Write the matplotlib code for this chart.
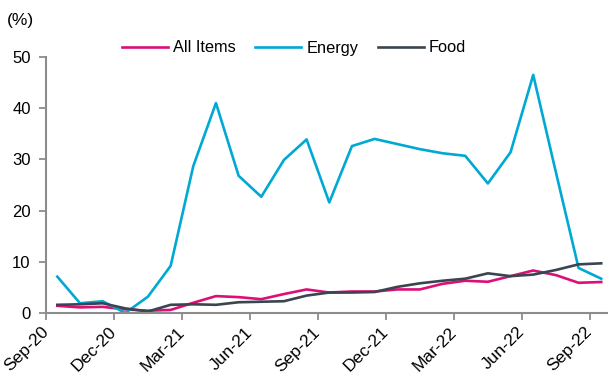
import matplotlib
matplotlib.use('Agg')
import matplotlib.pyplot as plt
import matplotlib.transforms as mtransforms
import numpy as np

plt.rcParams['font.family'] = ['Liberation Sans', 'DejaVu Sans']

# Monthly data, Sep-20 .. Sep-22 (year-on-year %)
months = ['Sep-20', 'Oct-20', 'Nov-20', 'Dec-20', 'Jan-21', 'Feb-21', 'Mar-21', 'Apr-21',
          'May-21', 'Jun-21', 'Jul-21', 'Aug-21', 'Sep-21', 'Oct-21', 'Nov-21', 'Dec-21',
          'Jan-22', 'Feb-22', 'Mar-22', 'Apr-22', 'May-22', 'Jun-22', 'Jul-22', 'Aug-22',
          'Sep-22']
all_items = [1.4, 1.1, 1.2, 0.7, 0.45, 0.6, 2.0, 3.3, 3.1, 2.7, 3.7, 4.6,
             4.0, 4.2, 4.2, 4.6, 4.6, 5.7, 6.3, 6.1, 7.2, 8.3, 7.4, 5.9, 6.05]
energy = [7.1, 1.9, 2.3, 0.0, 3.2, 9.2, 28.7, 41.0, 26.8, 22.7, 29.9, 33.9,
          21.6, 32.6, 34.0, 33.0, 32.0, 31.2, 30.7, 25.3, 31.4, 46.5, 27.5, 8.8, 6.7]
food = [1.6, 1.7, 1.9, 0.9, 0.3, 1.6, 1.7, 1.6, 2.1, 2.2, 2.3, 3.4,
        4.0, 4.0, 4.1, 5.1, 5.8, 6.3, 6.7, 7.75, 7.2, 7.5, 8.4, 9.5, 9.7]

tick_labels = months[::3]

fig = plt.figure(figsize=(6.08, 3.79), dpi=100)
ax = fig.add_axes([46 / 608, 66 / 379, 1 - 46 / 608, 256 / 379])

x = np.arange(len(months))
ax.plot(x, all_items, color='#DC0F78', lw=1.9, label='All Items')
ax.plot(x, energy, color='#00A9D4', lw=1.9, label='Energy')
ax.plot(x, food, color='#3B4550', lw=1.9, label='Food')

ax.set_xlim(-0.5, 24.3)
ax.set_ylim(0, 50)
ax.set_yticks(range(0, 51, 10))
ax.set_xticks(np.arange(-0.5, 24, 3))
ax.set_xticklabels(tick_labels, rotation=45, ha='right', va='center',
                   rotation_mode='anchor', fontsize=12.5)
offset = mtransforms.ScaledTranslation(0.14, 0.0, fig.dpi_scale_trans)
for lbl in ax.get_xticklabels():
    lbl.set_transform(lbl.get_transform() + offset)

for s in ['top', 'right']:
    ax.spines[s].set_visible(False)
for s in ['left', 'bottom']:
    ax.spines[s].set_color('#8C8C8C')
    ax.spines[s].set_linewidth(1.5)
ax.tick_params(axis='both', colors='#8C8C8C', width=1.3, length=5,
               labelcolor='black')
ax.tick_params(axis='y', labelsize=12, pad=6)
ax.tick_params(axis='x', pad=7)

fig.text(7 / 608, 1 - 20 / 379, '(%)', fontsize=12.5, va='center', ha='left')

fig.legend(loc='center', bbox_to_anchor=(294 / 608, 1 - 48 / 379), ncol=3,
           frameon=False, fontsize=11.8, handlelength=2.8, handletextpad=0.3,
           columnspacing=1.2)

fig.savefig('out.png', dpi=100)
